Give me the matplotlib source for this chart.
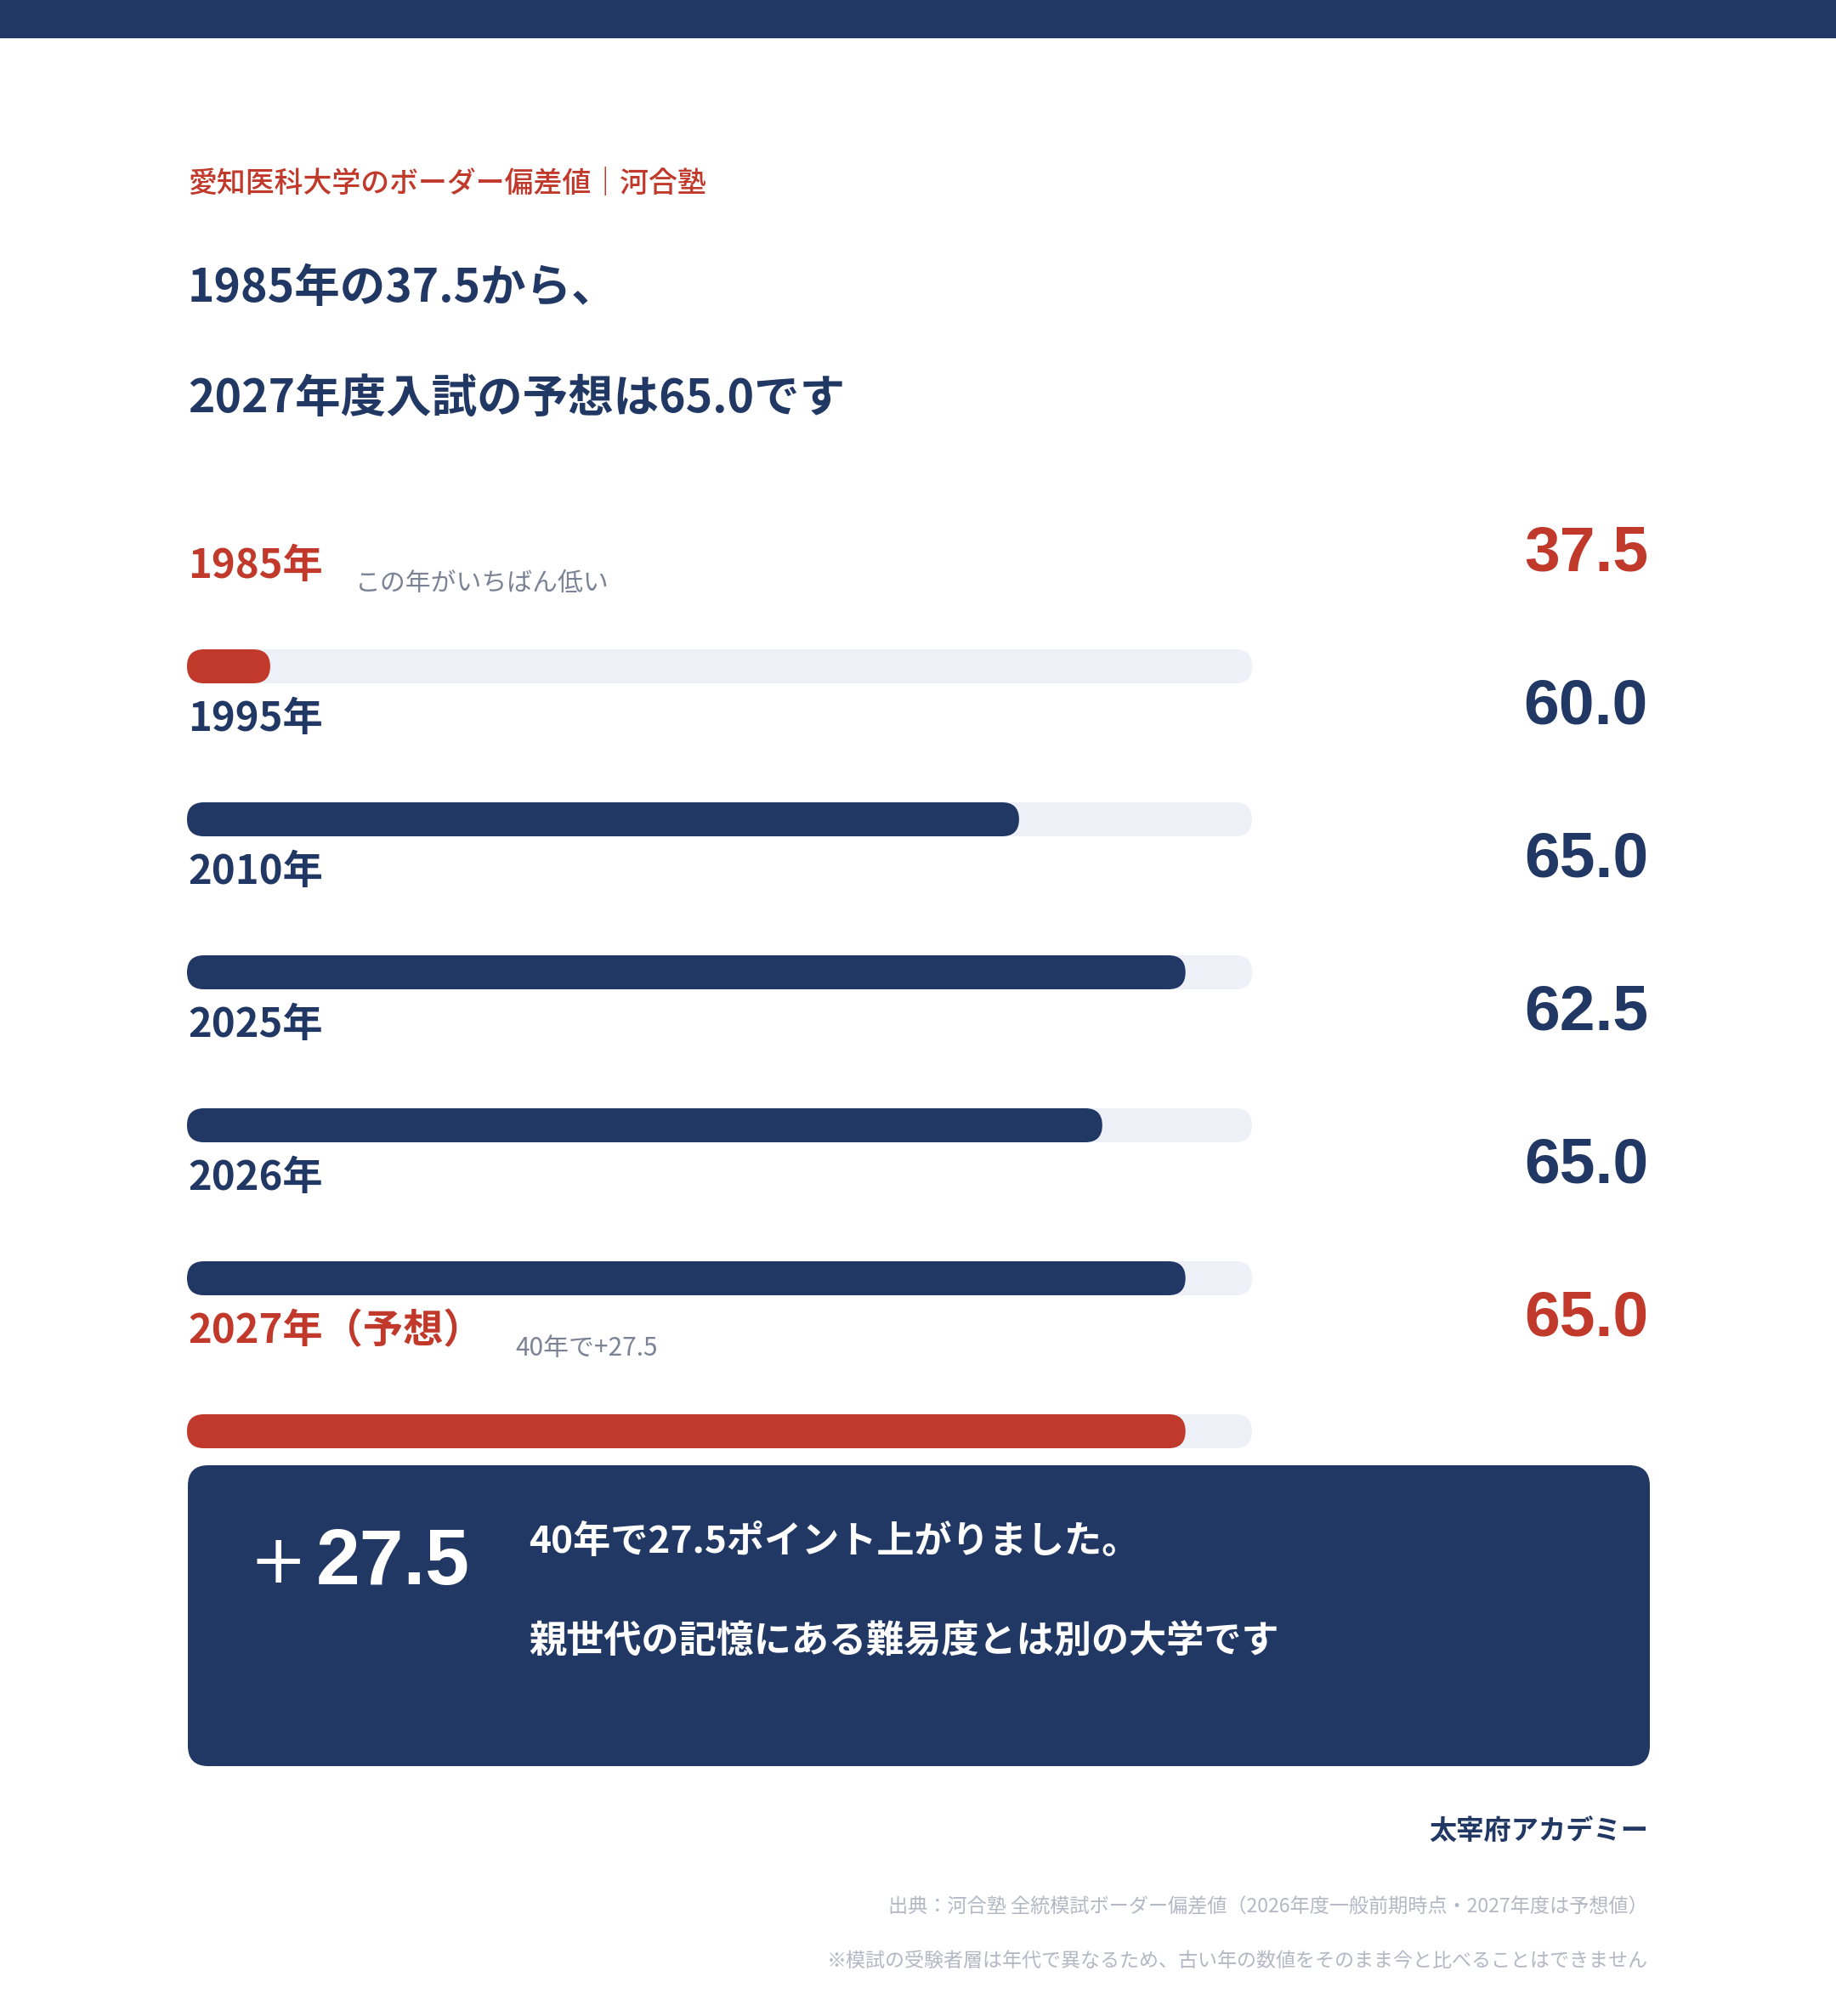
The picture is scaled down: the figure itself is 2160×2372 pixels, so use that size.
import matplotlib
matplotlib.use("Agg")
import matplotlib.pyplot as plt
from matplotlib.patches import FancyBboxPatch, Rectangle

# ---------------- data ----------------
years = ["1985年", "1995年", "2010年", "2025年", "2026年", "2027年（予想）"]
values = [37.5, 60.0, 65.0, 62.5, 65.0, 65.0]
highlight = [True, False, False, False, False, True]
notes = ["この年がいちばん低い", "", "", "", "", "40年で+27.5"]
SCALE_MIN, SCALE_MAX = 35, 67

subtitle = "愛知医科大学のボーダー偏差値｜河合塾"
title_lines = ["1985年の37.5から、", "2027年度入試の予想は65.0です"]
box_lines = ["40年で27.5ポイント上がりました。", "親世代の記憶にある難易度とは別の大学です"]
brand = "太宰府アカデミー"
source = "出典：河合塾 全統模試ボーダー偏差値（2026年度一般前期時点・2027年度は予想値）"
footnote = "※模試の受験者層は年代で異なるため、古い年の数値をそのまま今と比べることはできません"

# ---------------- style ----------------
NAVY = "#213864"
RED = "#c0392b"
TRACK = "#edf0f7"
GRAY = "#7b8394"
LIGHT = "#b3b8c4"
JP = ["Noto Sans CJK JP", "DejaVu Sans"]
NUM = ["Liberation Sans", "DejaVu Sans"]

W, H = 2160, 2372
fig = plt.figure(figsize=(W / 100, H / 100), dpi=100)
fig.patch.set_facecolor("white")

bg = fig.add_axes([0, 0, 1, 1])
bg.set_xlim(0, W)
bg.set_ylim(H, 0)
bg.axis("off")

# top band
bg.add_patch(Rectangle((0, 0), W, 45, color=NAVY, lw=0))

LEFT = 221
RIGHT = 1939

bg.text(LEFT, 226, subtitle, family=JP, fontsize=24.4, color=RED,
        fontweight="medium", va="baseline", ha="left")
bg.text(LEFT, 355, title_lines[0], family=JP, fontsize=38.5, color=NAVY,
        fontweight="bold", va="baseline", ha="left")
bg.text(LEFT, 485, title_lines[1], family=JP, fontsize=38.5, color=NAVY,
        fontweight="bold", va="baseline", ha="left")

# ---------------- bars ----------------
TRACK_L, TRACK_R = 220, 1473
bx = fig.add_axes([TRACK_L / W, 0, (TRACK_R - TRACK_L) / W, 1])
bx.set_xlim(SCALE_MIN, SCALE_MAX)
bx.set_ylim(H, 0)
bx.axis("off")
bx.patch.set_visible(False)

px_per_unit = (TRACK_R - TRACK_L) / (SCALE_MAX - SCALE_MIN)
BAR_H = 40
rad_y = BAR_H / 2
rad_x = rad_y / px_per_unit
aspect = rad_y / rad_x

ROW0 = 784
ROW_STEP = 180

fig.canvas.draw()
renderer = fig.canvas.get_renderer()

for i, (yr, v, hl, note) in enumerate(zip(years, values, highlight, notes)):
    yc = ROW0 + ROW_STEP * i
    col = RED if hl else NAVY
    # track
    bx.add_patch(FancyBboxPatch((SCALE_MIN, yc - BAR_H / 2), SCALE_MAX - SCALE_MIN, BAR_H,
                                boxstyle=f"round,pad=0,rounding_size={rad_x}",
                                mutation_aspect=aspect, fc=TRACK, ec="none"))
    # fill
    bx.add_patch(FancyBboxPatch((SCALE_MIN, yc - BAR_H / 2), v - SCALE_MIN, BAR_H,
                                boxstyle=f"round,pad=0,rounding_size={rad_x}",
                                mutation_aspect=aspect, fc=col, ec="none"))
    lab = bg.text(LEFT, yc - 104, yr, family=JP, fontsize=34, fontweight="bold",
                  color=col, va="baseline", ha="left")
    bg.text(RIGHT, yc - 112, f"{v:.1f}", family=NUM, fontsize=54, fontweight="bold",
            color=col, va="baseline", ha="right")
    if note:
        ext = lab.get_window_extent(renderer=renderer)
        nx = ext.x1 + 38
        if yr.endswith("）"):
            nx = ext.x1 + 38
        bg.text(nx, yc - 89, note, family=JP, fontsize=21.5, color=GRAY,
                va="baseline", ha="left")

# ---------------- summary box ----------------
BOX_T, BOX_B = 1724, 2078
bg.add_patch(FancyBboxPatch((LEFT, BOX_T), RIGHT + 2 - LEFT, BOX_B - BOX_T,
                            boxstyle="round,pad=0,rounding_size=24",
                            fc=NAVY, ec="none"))
diff = values[-1] - values[0]
bg.text(293, 1862, "+", family=["DejaVu Sans"], fontsize=58, fontweight="normal",
        color="white", va="baseline", ha="left")
bg.text(372, 1864, f"{diff:.1f}", family=NUM, fontsize=67, fontweight="bold",
        color="white", va="baseline", ha="left")
bg.text(622, 1827, box_lines[0], family=JP, fontsize=31.8, fontweight="bold",
        color="white", va="baseline", ha="left")
bg.text(622, 1945, box_lines[1], family=JP, fontsize=31.8, fontweight="bold",
        color="white", va="baseline", ha="left")

# ---------------- footer ----------------
bg.text(RIGHT, 2165, brand, family=JP, fontsize=23.2, fontweight="bold",
        color=NAVY, va="baseline", ha="right")
bg.text(RIGHT, 2250, source, family=JP, fontsize=16.7, color=LIGHT,
        va="baseline", ha="right")
bg.text(RIGHT, 2314, footnote, family=JP, fontsize=16.6, color=LIGHT,
        va="baseline", ha="right")

fig.savefig("out.png", dpi=100, facecolor="white")
